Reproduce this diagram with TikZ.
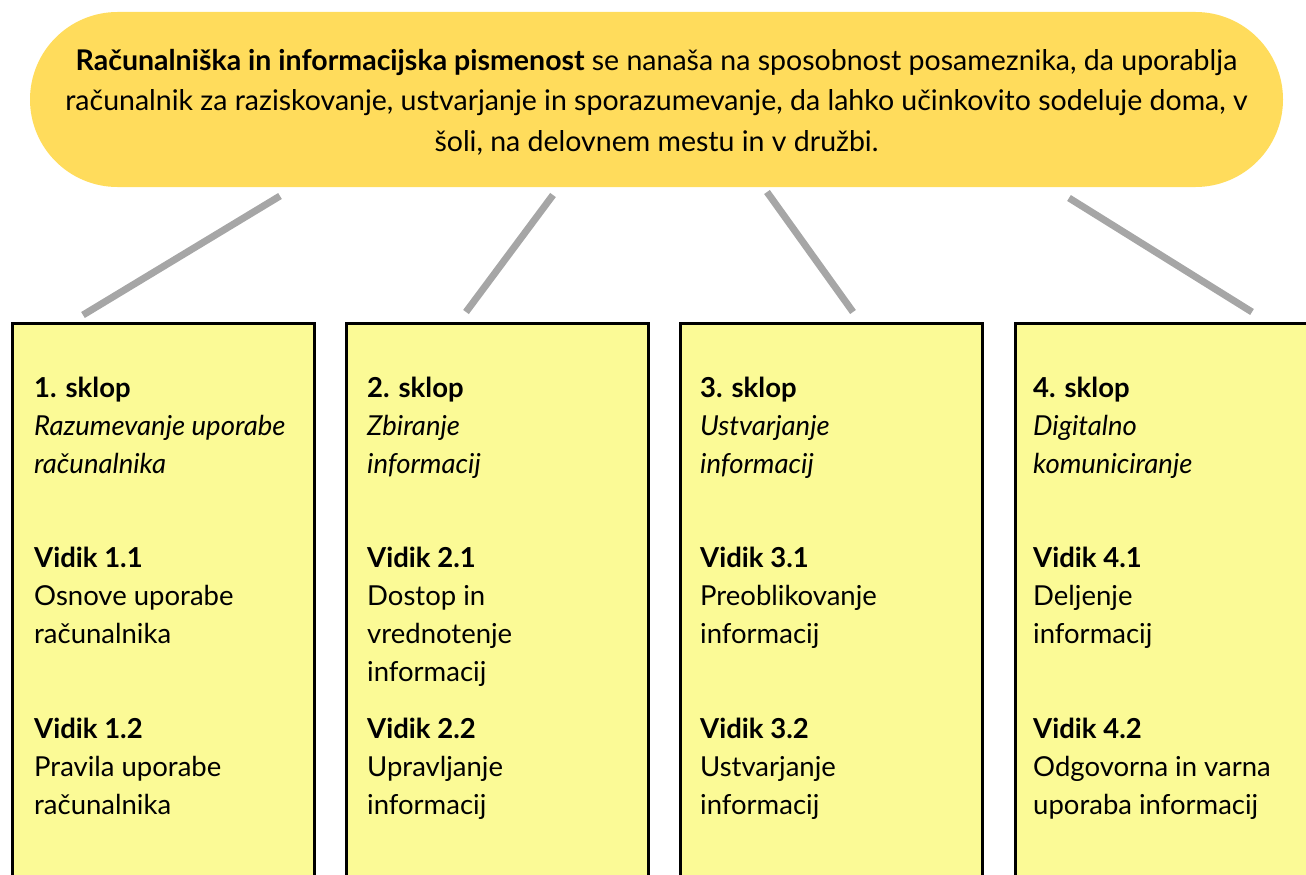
\documentclass[tikz,border=0pt]{standalone}
\usepackage{fontspec}
\setmainfont{Lato}
\definecolor{ovalyellow}{HTML}{FFDC5C}
\definecolor{boxyellow}{HTML}{FBFA96}
\definecolor{linkgray}{HTML}{A6A6A6}
\begin{document}
\begin{tikzpicture}[x=1pt,y=-1pt,
  topbox/.style={fill=ovalyellow, draw=none, rounded corners=87.5pt, minimum width=1253pt, minimum height=175pt, inner sep=0pt, outer sep=0pt},
  toptext/.style={anchor=north, inner sep=0pt, align=center, font=\fontsize{28.5}{40.5}\selectfont},
  sklopbox/.style={fill=boxyellow, draw=black, line width=3pt, anchor=north west, minimum width=302pt, minimum height=600pt, inner sep=0pt, outer sep=0pt},
  blocktext/.style={anchor=north west, inner sep=0pt, align=left, font=\fontsize{27.5}{38}\selectfont},
  link/.style={draw=linkgray, line width=7pt}
]
\useasboundingbox (0,0) rectangle (1306,875);
\clip (0,0) rectangle (1306,875);

\node[topbox] (top) at (656.5,99.5) {};
\node[toptext] (toptxt) at (656.5,41.65) {\strut\textbf{Računalniška in informacijska pismenost} se nanaša na sposobnost posameznika, da uporablja\\
računalnik za raziskovanje, ustvarjanje in sporazumevanje, da lahko učinkovito sodeluje doma, v\\
šoli, na delovnem mestu in v družbi.};

\node[sklopbox] (b1) at (12.5,323) {};
\node[sklopbox] (b2) at (346.5,323) {};
\node[sklopbox] (b3) at (680.5,323) {};
\node[sklopbox] (b4) at (1015.5,323) {};

% links
\coordinate (l1a) at (280,196); \coordinate (l1b) at (83,315);
\coordinate (l2a) at (553,195); \coordinate (l2b) at (466,312);
\coordinate (l3a) at (767,192); \coordinate (l3b) at (853,312);
\coordinate (l4a) at (1069,198); \coordinate (l4b) at (1252,312);
\draw[link] (l1a) -- (l1b);
\draw[link] (l2a) -- (l2b);
\draw[link] (l3a) -- (l3b);
\draw[link] (l4a) -- (l4b);

% box 1
\node[blocktext] (s1) at (34,371) {\strut\textbf{1. sklop}\\ \textit{Razumevanje uporabe}\\ \textit{računalnika}};
\node[blocktext] (v11) at (34,541) {\strut\textbf{Vidik 1.1}\\ Osnove uporabe\\ računalnika};
\node[blocktext] (v12) at (34,711.4) {\strut\textbf{Vidik 1.2}\\ Pravila uporabe\\ računalnika};
% box 2
\node[blocktext] (s2) at (367,371) {\strut\textbf{2. sklop}\\ \textit{Zbiranje}\\ \textit{informacij}};
\node[blocktext] (v21) at (367,541) {\strut\textbf{Vidik 2.1}\\ Dostop in\\ vrednotenje\\ informacij};
\node[blocktext] (v22) at (367,711.4) {\strut\textbf{Vidik 2.2}\\ Upravljanje\\ informacij};
% box 3
\node[blocktext] (s3) at (700,371) {\strut\textbf{3. sklop}\\ \textit{Ustvarjanje}\\ \textit{informacij}};
\node[blocktext] (v31) at (700,541) {\strut\textbf{Vidik 3.1}\\ Preoblikovanje\\ informacij};
\node[blocktext] (v32) at (700,711.4) {\strut\textbf{Vidik 3.2}\\ Ustvarjanje\\ informacij};
% box 4
\node[blocktext] (s4) at (1033,371) {\strut\textbf{4. sklop}\\ \textit{Digitalno}\\ \textit{komuniciranje}};
\node[blocktext] (v41) at (1033,541) {\strut\textbf{Vidik 4.1}\\ Deljenje\\ informacij};
\node[blocktext] (v42) at (1033,711.4) {\strut\textbf{Vidik 4.2}\\ Odgovorna in varna\\ uporaba informacij};
\end{tikzpicture}
\end{document}
